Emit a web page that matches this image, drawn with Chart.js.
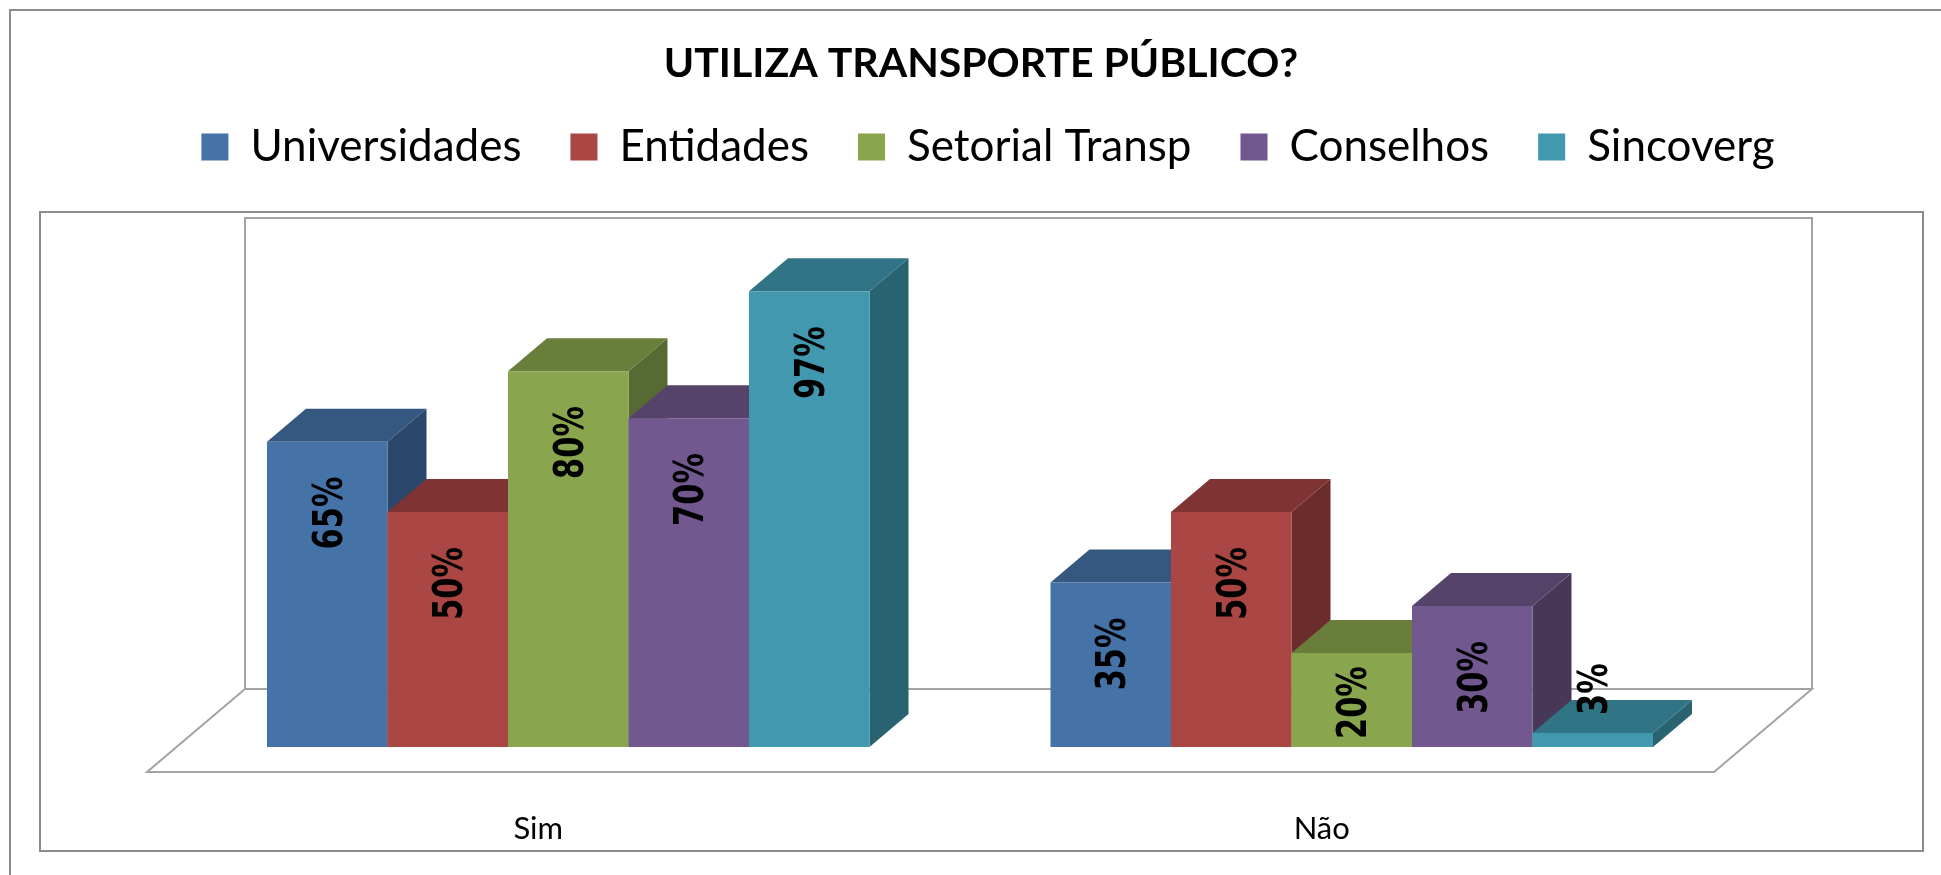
<!DOCTYPE html>
<html lang="pt">
<head>
    <meta charset="UTF-8">
    <title>Utiliza transporte público?</title>
    <script src="https://cdn.jsdelivr.net/npm/chart.js"></script>
    <style>
        body { margin: 0; background: #fff; }
        canvas { display: block; }
    </style>
</head>
<body>
    <canvas id="grafico" width="1941" height="875"></canvas>

    <script>
        const categorias = ['Sim', 'Não'];
        const universidades = [65, 35];
        const entidades = [50, 50];
        const setorial = [80, 20];
        const conselhos = [70, 30];
        const sincoverg = [97, 3];

        const nomes = ['Universidades', 'Entidades', 'Setorial Transp', 'Conselhos', 'Sincoverg'];
        const valores = [universidades, entidades, setorial, conselhos, sincoverg];
        const coresFrente = ['#4572a7', '#aa4643', '#89a54e', '#71588f', '#4198af'];
        const coresTopo = ['#34587f', '#803333', '#687e3a', '#564369', '#307486'];
        const coresLado = ['#2b476b', '#6b2c2b', '#586a33', '#483858', '#296270'];

        const profX = 39, profY = 33; // profundidade das barras 3D
        const corBorda = '#8c8c8c';

        function poligono(ctx, pts, fill) {
            ctx.beginPath();
            pts.forEach((p, i) => i ? ctx.lineTo(p[0], p[1]) : ctx.moveTo(p[0], p[1]));
            ctx.closePath();
            if (fill) {
                ctx.fillStyle = fill;
                ctx.fill();
            }
        }

        function moverCentro(box, cx) {
            const d = cx - (box.left + box.right) / 2;
            box.left += d;
            box.right += d;
        }

        const cenario = {
            id: 'cenario',
            afterLayout(chart) {
                moverCentro(chart.titleBlock, 981);
                moverCentro(chart.legend, 988);
                const h = chart.legend.bottom - chart.legend.top;
                chart.legend.top = 76;
                chart.legend.bottom = 76 + h;
            },
            beforeDatasetsDraw(chart) {
                const { ctx, chartArea: a } = chart;
                // molduras, parede e piso
                ctx.save();
                ctx.strokeStyle = corBorda;
                ctx.lineWidth = 2;
                ctx.beginPath();
                ctx.moveTo(10, 875);
                ctx.lineTo(10, 10);
                ctx.lineTo(1941, 10);
                ctx.stroke();
                ctx.strokeRect(40, 212, 1883, 639);

                ctx.strokeStyle = '#a3a3a3';
                const piso = a.bottom + 25, fundo = a.bottom - 58;
                const esq = a.left - 29.5, dir = a.right - 29.5;
                poligono(ctx, [[esq, piso], [dir, piso], [dir + 98, fundo], [esq + 98, fundo]]);
                ctx.stroke();
                ctx.beginPath();
                ctx.moveTo(esq + 98, fundo);
                ctx.lineTo(esq + 98, 218);
                ctx.lineTo(dir + 98, 218);
                ctx.lineTo(dir + 98, fundo);
                ctx.stroke();
                ctx.restore();

                // series da esquerda para a direita: lado, topo e depois a frente
                nomes.forEach((nome, i) => {
                    const meta = chart.getDatasetMeta(i);
                    meta.data.forEach(bar => {
                        const l = bar.x - bar.width / 2, r = bar.x + bar.width / 2;
                        poligono(ctx, [[r, bar.y], [r + profX, bar.y - profY], [r + profX, bar.base - profY], [r, bar.base]], coresLado[i]);
                        poligono(ctx, [[l, bar.y], [r, bar.y], [r + profX, bar.y - profY], [l + profX, bar.y - profY]], coresTopo[i]);
                    });
                    meta.controller.draw();
                });
            },
            beforeDatasetDraw() {
                return false;
            },
            // rotulos de valor na vertical
            afterDatasetsDraw(chart) {
                const { ctx } = chart;
                const k = 0.76;
                ctx.save();
                ctx.font = 'bold 40px "DejaVu Sans"';
                ctx.fillStyle = '#000';
                ctx.textAlign = 'center';
                ctx.textBaseline = 'middle';
                valores.forEach((serie, i) => {
                    chart.getDatasetMeta(i).data.forEach((bar, j) => {
                        const txt = serie[j] + '%';
                        const len = ctx.measureText(txt).width * k;
                        let fim = bar.y + 35 + len;
                        if (bar.base - bar.y < 30) fim = bar.y - 18;
                        else if (fim > bar.base - 8) fim = bar.base - 8;
                        ctx.save();
                        ctx.translate(bar.x + 4, fim - len / 2);
                        ctx.rotate(-Math.PI / 2);
                        ctx.scale(k, 1);
                        ctx.fillText(txt, 0, 0);
                        ctx.restore();
                    });
                });
                ctx.restore();
            }
        };

        new Chart(document.getElementById('grafico'), {
            type: 'bar',
            data: {
                labels: categorias,
                datasets: nomes.map((nome, i) => ({
                    label: nome,
                    data: valores[i],
                    backgroundColor: coresFrente[i],
                    borderWidth: 0,
                    categoryPercentage: 0.769,
                    barPercentage: 1
                }))
            },
            options: {
                responsive: false,
                animation: false,
                layout: { padding: { top: 39.5, right: 197.5, bottom: 0, left: 0 } },
                plugins: {
                    title: {
                        display: true,
                        text: 'UTILIZA TRANSPORTE PÚBLICO?',
                        color: '#000',
                        font: { family: 'Lato', size: 41, weight: 'bold' },
                        padding: { top: 0, bottom: 85.5 }
                    },
                    legend: {
                        position: 'top',
                        labels: {
                            color: '#000',
                            font: { family: 'Lato', size: 44 },
                            boxWidth: 27,
                            boxHeight: 27,
                            padding: 49
                        }
                    },
                    tooltip: { enabled: false }
                },
                scales: {
                    x: {
                        grid: { display: false },
                        border: { display: false },
                        ticks: {
                            color: '#000',
                            font: { family: 'Lato', size: 31 },
                            labelOffset: -30,
                            padding: 55,
                            maxRotation: 0
                        },
                        afterFit(scale) { scale.height = 128; }
                    },
                    y: {
                        min: 0,
                        max: 100,
                        grid: { display: false },
                        border: { display: false },
                        ticks: { display: false },
                        afterFit(scale) { scale.width = 176.5; }
                    }
                }
            },
            plugins: [cenario]
        });
    </script>
</body>
</html>
